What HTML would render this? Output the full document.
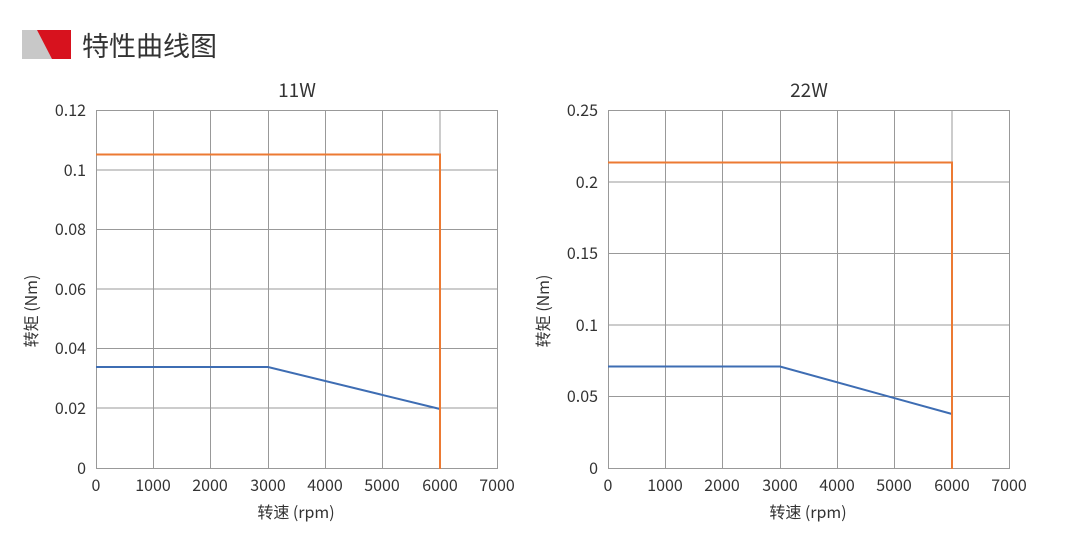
<!DOCTYPE html>
<html><head><meta charset="utf-8"><style>
html,body{margin:0;padding:0;background:#fff;}
text{font-family:"Noto Sans CJK SC","Liberation Sans",sans-serif;fill:#333;}
</style></head><body>
<svg width="1075" height="534" viewBox="0 0 1075 534" xmlns="http://www.w3.org/2000/svg">
<rect x="22" y="30" width="30" height="29" fill="#c8c8c8"/>
<polygon points="37,30 71,30 71,59 52,59" fill="#d7121e"/>
<text x="82" y="56" font-size="27" style="fill:#333">特性曲线图</text>

<!-- Left chart -->
<g stroke="#999" stroke-width="1" fill="none">
<line x1="96" y1="110.5" x2="497.5" y2="110.5"/>
<line x1="96" y1="170" x2="497.5" y2="170"/>
<line x1="96" y1="229.5" x2="497.5" y2="229.5"/>
<line x1="96" y1="289" x2="497.5" y2="289"/>
<line x1="96" y1="348.5" x2="497.5" y2="348.5"/>
<line x1="96" y1="408" x2="497.5" y2="408"/>
<line x1="96" y1="468.5" x2="497.5" y2="468.5"/>
<line x1="96.5" y1="110" x2="96.5" y2="469"/>
<line x1="153.5" y1="110" x2="153.5" y2="469"/>
<line x1="210.5" y1="110" x2="210.5" y2="469"/>
<line x1="268.5" y1="110" x2="268.5" y2="469"/>
<line x1="325.5" y1="110" x2="325.5" y2="469"/>
<line x1="382.5" y1="110" x2="382.5" y2="469"/>
<line x1="440" y1="110" x2="440" y2="469"/>
<line x1="497.5" y1="110" x2="497.5" y2="469"/>
</g>
<polyline points="96,367 268,367 440,409" fill="none" stroke="#3e6db3" stroke-width="2"/>
<polyline points="96,154.5 440,154.5 440,469" fill="none" stroke="#ec7a33" stroke-width="2"/>
<g font-size="16" text-anchor="end">
<text x="86" y="116">0.12</text><text x="86" y="176">0.1</text><text x="86" y="235">0.08</text>
<text x="86" y="295">0.06</text><text x="86" y="354">0.04</text><text x="86" y="414">0.02</text><text x="86" y="474">0</text>
</g>
<g font-size="16" text-anchor="middle">
<text x="96" y="491">0</text><text x="153" y="491">1000</text><text x="210" y="491">2000</text><text x="268" y="491">3000</text>
<text x="325" y="491">4000</text><text x="382" y="491">5000</text><text x="440" y="491">6000</text><text x="497" y="491">7000</text>
<text x="296" y="518">转速 (rpm)</text>
<text x="297" y="97" font-size="19">11W</text>
<text transform="translate(37,311) rotate(-90)" font-size="16">转矩 (Nm)</text>
</g>

<!-- Right chart -->
<g stroke="#999" stroke-width="1" fill="none">
<line x1="608" y1="110.5" x2="1009.5" y2="110.5"/>
<line x1="608" y1="182" x2="1009.5" y2="182"/>
<line x1="608" y1="253.5" x2="1009.5" y2="253.5"/>
<line x1="608" y1="325" x2="1009.5" y2="325"/>
<line x1="608" y1="396.5" x2="1009.5" y2="396.5"/>
<line x1="608" y1="468.5" x2="1009.5" y2="468.5"/>
<line x1="608.5" y1="110" x2="608.5" y2="469"/>
<line x1="665.5" y1="110" x2="665.5" y2="469"/>
<line x1="722.5" y1="110" x2="722.5" y2="469"/>
<line x1="780.5" y1="110" x2="780.5" y2="469"/>
<line x1="837.5" y1="110" x2="837.5" y2="469"/>
<line x1="894.5" y1="110" x2="894.5" y2="469"/>
<line x1="952" y1="110" x2="952" y2="469"/>
<line x1="1009.5" y1="110" x2="1009.5" y2="469"/>
</g>
<polyline points="608,366.5 780,366.5 952,414" fill="none" stroke="#3e6db3" stroke-width="2"/>
<polyline points="608,162.5 952,162.5 952,469" fill="none" stroke="#ec7a33" stroke-width="2"/>
<g font-size="16" text-anchor="end">
<text x="598" y="116">0.25</text><text x="598" y="188">0.2</text><text x="598" y="259">0.15</text>
<text x="598" y="331">0.1</text><text x="598" y="402">0.05</text><text x="598" y="474">0</text>
</g>
<g font-size="16" text-anchor="middle">
<text x="608" y="491">0</text><text x="665" y="491">1000</text><text x="722" y="491">2000</text><text x="780" y="491">3000</text>
<text x="837" y="491">4000</text><text x="894" y="491">5000</text><text x="952" y="491">6000</text><text x="1009" y="491">7000</text>
<text x="808" y="518">转速 (rpm)</text>
<text x="809" y="97" font-size="19">22W</text>
<text transform="translate(549,311) rotate(-90)" font-size="16">转矩 (Nm)</text>
</g>
</svg>
</body></html>
